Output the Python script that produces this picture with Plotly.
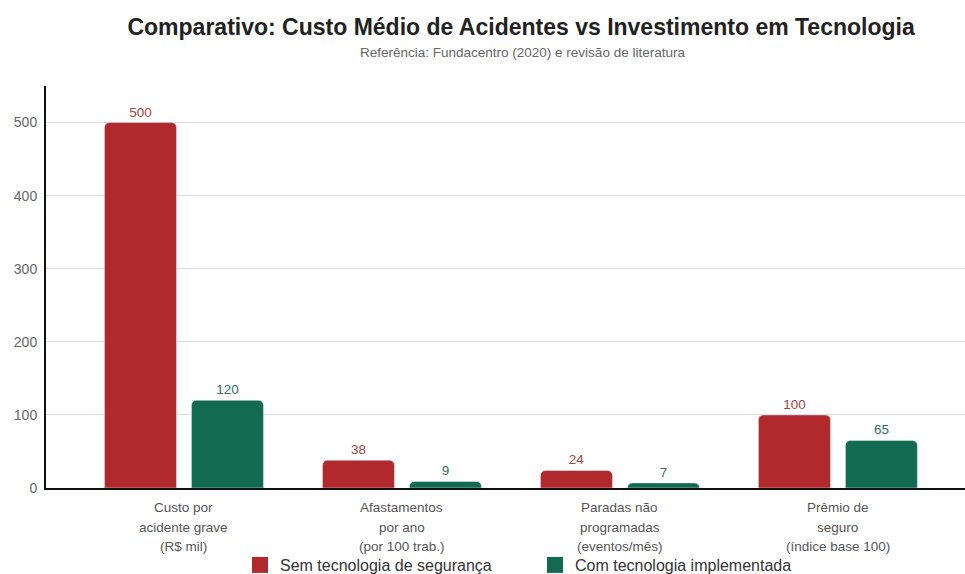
import plotly.graph_objects as go

categories = ["Custo por<br>acidente grave<br>(R$ mil)",
              "Afastamentos<br>por ano<br>(por 100 trab.)",
              "Paradas não<br>programadas<br>(eventos/mês)",
              "Prêmio de<br>seguro<br>(índice base 100)"]
sem_tec = [500, 38, 24, 100]
com_tec = [120, 9, 7, 65]
series_names = ["Sem tecnologia de segurança", "Com tecnologia implementada"]
y_ticks = [0, 100, 200, 300, 400, 500]

RED = "#b0292c"
GREEN = "#126a50"
FONT = "Liberation Sans, Arial, sans-serif"
PLOT_H = 574 - 86 - 86

x = list(range(len(categories)))
fig = go.Figure()
fig.add_trace(go.Bar(x=x, y=sem_tec, name=series_names[0], marker_color=RED,
                     text=sem_tec, textposition="outside", showlegend=False,
                     textfont=dict(color="#a8433c", size=13.5, family=FONT),
                     cliponaxis=False))
fig.add_trace(go.Bar(x=x, y=com_tec, name=series_names[1], marker_color=GREEN,
                     text=com_tec, textposition="outside", showlegend=False,
                     textfont=dict(color="#2f7261", size=13.5, family=FONT),
                     cliponaxis=False))
# legend entries
for nm, col in zip(series_names, [RED, GREEN]):
    fig.add_trace(go.Scatter(x=[None], y=[None], mode="markers", name=nm,
                             marker=dict(symbol="square", size=16, color=col)))

annotations = [dict(text="Referência: Fundacentro (2020) e revisão de literatura",
                    xref="paper", yref="paper", x=0.518, y=1.0 + (86 - 52) / PLOT_H,
                    xanchor="center", yanchor="middle", showarrow=False,
                    font=dict(size=13.5, color="#666", family=FONT))]
line_offsets = [19, 39, 58]
for xi, cat in zip(x, categories):
    for off, line in zip(line_offsets, cat.split("<br>")):
        annotations.append(dict(text=line, xref="x", yref="paper", x=xi,
                                y=-off / PLOT_H, xanchor="center", yanchor="middle",
                                showarrow=False,
                                font=dict(size=13.5, color="#555", family=FONT)))

fig.update_layout(
    width=965, height=574,
    margin=dict(l=46, r=0, t=86, b=86, autoexpand=False),
    paper_bgcolor="white", plot_bgcolor="white",
    font=dict(family=FONT, color="#555"),
    barmode="group", bargap=0.202, bargroupgap=0.172,
    barcornerradius=5,
    title=dict(text="<b>Comparativo: Custo Médio de Acidentes vs Investimento em Tecnologia</b>",
               x=0.54, xanchor="center", y=1 - 27 / 574, yanchor="middle",
               font=dict(size=23, color="#222", family=FONT)),
    annotations=annotations,
    showlegend=True,
    legend=dict(orientation="h", x=(258 - 46 - 18) / 919, xanchor="left",
                y=-(565 - 488) / PLOT_H,
                yanchor="middle", font=dict(size=16, color="#333", family=FONT),
                entrywidth=250, traceorder="normal", itemsizing="trace"),
    xaxis=dict(tickmode="array", tickvals=x, ticktext=[""] * len(x),
               range=[-0.633, 3.583], showline=True, linecolor="#111", linewidth=2,
               showgrid=False, ticks=""),
    yaxis=dict(range=[0, 550], tickvals=y_ticks, showline=True, linecolor="#111",
               linewidth=2, gridcolor="#dddddd", zeroline=False, ticks="",
               ticklabelstandoff=4, tickfont=dict(size=14, color="#666")),
)
fig.write_html("out.html")
